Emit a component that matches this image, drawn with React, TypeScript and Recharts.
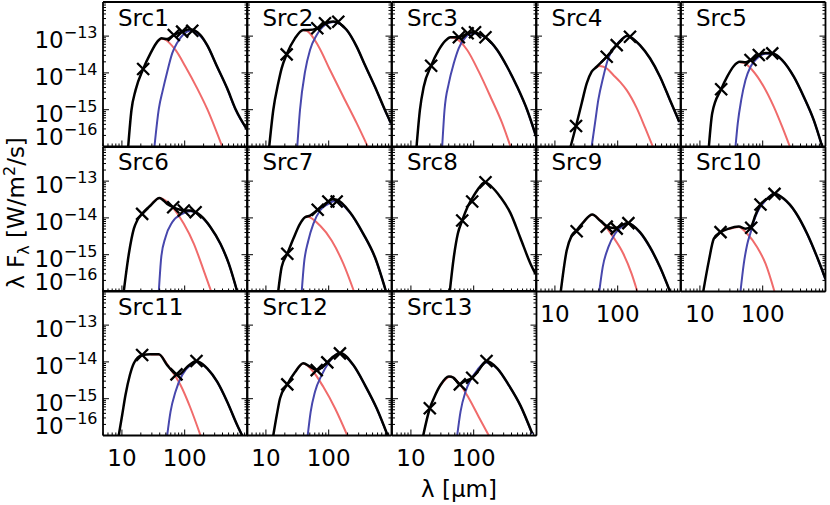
import React from "react";
import { ComposedChart, Line, Scatter, XAxis, YAxis } from "recharts";

type Pt = [number, number];

// [wavelength in um, lambda*F_lambda in W/m^2/s]
const src1Total: Pt[] = [[12.6, 1e-16], [14.2, 9.8e-16], [16.5, 3.4e-15], [21.8, 1.28e-14], [28.5, 3.4e-14], [36.5, 7.0e-14], [42.7, 8.7e-14], [52.6, 8.3e-14], [67, 1.07e-13], [91, 1.32e-13], [120, 1.53e-13], [178, 1.07e-13], [228, 5.7e-14], [329, 1.47e-14], [475, 3.8e-15], [644, 1.05e-15], [1000, 2.8e-16]];
const src1Cold: Pt[] = [[36.5, 7.0e-14], [42.7, 8.5e-14], [46.5, 8.3e-14], [71.3, 4.2e-14], [103, 1.47e-14], [158, 3.8e-15], [228, 1.05e-15], [395, 1e-16]];
const src1Warm: Pt[] = [[33, 1e-16], [38.7, 1.05e-15], [44.8, 3.4e-15], [52.6, 1.06e-14], [63.2, 3.4e-14], [76, 6.6e-14], [96.8, 1.14e-13], [120, 1.4e-13], [178, 1.0e-13], [228, 5.6e-14], [329, 1.45e-14], [475, 3.7e-15], [644, 1.0e-15], [1000, 2.7e-16]];
const src1Phot: Pt[] = [[21.8, 1.28e-14], [67, 1.07e-13], [91, 1.32e-13], [132, 1.4e-13]];

const src2Total: Pt[] = [[11.3, 1e-16], [13.1, 9.8e-16], [15.7, 5.2e-15], [17.8, 1.33e-14], [21.4, 3.2e-14], [29, 8.7e-14], [39.4, 1.47e-13], [47.3, 1.47e-13], [65.8, 1.63e-13], [87.3, 2.2e-13], [118, 2.5e-13], [194, 1.47e-13], [279, 5.2e-14], [378, 1.64e-14], [546, 4.2e-15], [787, 9.8e-16], [982, 4.3e-16]];
const src2Cold: Pt[] = [[39.4, 1.45e-13], [44.6, 1.4e-13], [68.3, 5.4e-14], [105, 1.2e-14], [171, 2.25e-15], [279, 4.3e-16], [418, 1e-16]];
const src2Warm: Pt[] = [[31.6, 1e-16], [34.9, 9.8e-16], [42, 1.08e-14], [50.4, 4.2e-14], [64.4, 1.07e-13], [87.3, 2.0e-13], [118, 2.4e-13], [194, 1.45e-13], [279, 5.1e-14], [378, 1.6e-14], [546, 4.1e-15], [787, 9.6e-16], [982, 4.2e-16]];
const src2Phot: Pt[] = [[21.4, 3.2e-14], [65.8, 1.63e-13], [87.3, 2.23e-13], [142, 2.46e-13]];

const src3Total: Pt[] = [[12.3, 1e-16], [13.9, 9.8e-16], [16, 4.2e-15], [21, 1.57e-14], [27.8, 4.2e-14], [35.5, 7.5e-14], [42.7, 9.3e-14], [52.6, 9.3e-14], [61.6, 9.6e-14], [83.6, 1.22e-13], [94.6, 1.27e-13], [128, 1.12e-13], [154, 9.3e-14], [237, 4.2e-14], [341, 1.47e-14], [493, 4.2e-15], [711, 9.8e-16], [988, 1.85e-16]];
const src3Cold: Pt[] = [[42.7, 9.2e-14], [48.2, 9.0e-14], [78.7, 4.2e-14], [120.5, 1.08e-14], [185, 2.25e-15], [284, 4.3e-16], [385, 1e-16]];
const src3Warm: Pt[] = [[31.5, 1e-16], [34.3, 9.8e-16], [40.1, 5.2e-15], [48.2, 1.82e-14], [57.9, 4.7e-14], [74, 9.3e-14], [94.6, 1.2e-13], [128, 1.08e-13], [154, 9.1e-14], [237, 4.1e-14], [341, 1.45e-14], [493, 4.1e-15], [711, 9.6e-16], [988, 1.8e-16]];
const src3Phot: Pt[] = [[21, 1.57e-14], [58, 9.3e-14], [80, 1.2e-13], [105, 1.27e-13], [154, 9.3e-14]];

const src4Total: Pt[] = [[17.8, 1e-16], [21.7, 3.6e-16], [26.7, 1.5e-15], [32.1, 5.2e-15], [38.5, 1.08e-14], [46.3, 1.47e-14], [66.8, 2.75e-14], [96.4, 5.7e-14], [142, 1.03e-13], [157, 9.6e-14], [226, 5.7e-14], [327, 2.5e-14], [472, 7.9e-15], [680, 1.84e-15], [957, 4.7e-16]];
const src4Cold: Pt[] = [[46.3, 1.45e-14], [52.2, 1.54e-14], [68, 1.3e-14], [85, 8.8e-15], [110, 5.6e-15], [139, 3.4e-15], [201, 1.1e-15], [272, 3.3e-16], [361, 1e-16]];
const src4Warm: Pt[] = [[38.5, 1e-16], [43.5, 4.3e-16], [49.1, 1.84e-15], [59, 7.9e-15], [70.8, 2.5e-14], [90.6, 5.2e-14], [116, 8.2e-14], [142, 1.0e-13], [157, 9.5e-14], [226, 5.6e-14], [327, 2.45e-14], [472, 7.8e-15], [680, 1.8e-15], [957, 4.6e-16]];
const src4Phot: Pt[] = [[21.7, 3.6e-16], [66.8, 2.75e-14], [96.4, 5.7e-14], [157, 9.6e-14]];

const src5Total: Pt[] = [[13.9, 1e-16], [15.7, 8e-16], [21.8, 3.6e-15], [27.2, 7.9e-15], [34.7, 1.54e-14], [43.2, 2.0e-14], [53.2, 1.95e-14], [64, 2.24e-14], [86.7, 3.06e-14], [111, 3.5e-14], [142, 3.4e-14], [204, 2.24e-14], [313, 7.9e-15], [451, 2.25e-15], [651, 5.2e-16], [885, 1e-16]];
const src5Cold: Pt[] = [[43.2, 1.95e-14], [50, 1.89e-14], [68, 1.2e-14], [104, 4.2e-15], [150, 1.21e-15], [204, 3.45e-16], [270, 1e-16]];
const src5Warm: Pt[] = [[36.9, 1e-16], [40.1, 4.3e-16], [45.5, 1.84e-15], [53.2, 6.4e-15], [64, 1.47e-14], [81.7, 2.5e-14], [111, 3.3e-14], [142, 3.3e-14], [204, 2.2e-14], [313, 7.8e-15], [451, 2.2e-15], [651, 5.1e-16], [885, 1e-16]];
const src5Phot: Pt[] = [[21.8, 3.6e-15], [64, 2.24e-14], [86.7, 3.06e-14], [142, 3.4e-14]];

const src6Total: Pt[] = [[10.7, 1e-16], [12.9, 1.06e-15], [15.5, 5.1e-15], [17.5, 8.5e-15], [21, 1.29e-14], [28.5, 2.17e-14], [39.7, 3.5e-14], [52.6, 2.4e-14], [65.6, 1.95e-14], [96.8, 1.59e-14], [124, 1.6e-14], [149, 1.43e-14], [178.5, 1.16e-14], [258, 5.6e-15], [371, 1.98e-15], [504, 5.7e-16], [685, 1e-16]];
const src6Cold: Pt[] = [[28.5, 2.17e-14], [39.7, 3.45e-14], [67, 1.77e-14], [96.8, 6.9e-15], [140, 1.98e-15], [201, 3.7e-16], [264, 1e-16]];
const src6Warm: Pt[] = [[38.7, 1e-16], [42.3, 8.5e-16], [49.5, 3.0e-15], [63.2, 7.6e-15], [91.2, 1.29e-14], [124, 1.52e-14], [149, 1.4e-14], [178.5, 1.13e-14], [258, 5.5e-15], [371, 1.95e-15], [504, 5.6e-16], [685, 1e-16]];
const src6Phot: Pt[] = [[21, 1.29e-14], [65.6, 1.95e-14], [96.8, 1.59e-14], [149, 1.43e-14]];

const src7Total: Pt[] = [[15.7, 1e-16], [17.8, 4.6e-16], [21.9, 1.06e-15], [27.3, 2.7e-15], [34.9, 6.9e-15], [42, 1.04e-14], [50.4, 1.16e-14], [66.8, 1.66e-14], [98.6, 2.79e-14], [116, 3.2e-14], [134, 3.1e-14], [218, 1.43e-14], [356, 3.7e-15], [546, 8.5e-16], [817, 1e-16]];
const src7Cold: Pt[] = [[42, 1.04e-14], [44.6, 1.09e-14], [72.7, 6.2e-15], [112, 2.4e-15], [171, 5.7e-16], [253, 1e-16]];
const src7Warm: Pt[] = [[37.2, 1e-16], [40.4, 5.7e-16], [47.3, 2.4e-15], [56.9, 6.9e-15], [72.7, 1.59e-14], [98.6, 2.4e-14], [124, 2.9e-14], [218, 1.4e-14], [356, 3.6e-15], [546, 8.3e-16], [817, 1e-16]];
const src7Phot: Pt[] = [[21.9, 1.06e-15], [66.8, 1.66e-14], [98.6, 2.79e-14], [134, 2.79e-14]];

const src8Total: Pt[] = [[41.6, 1e-16], [48.2, 8.5e-16], [55.8, 3.7e-15], [65.6, 8.5e-15], [80, 2.0e-14], [100, 4.0e-14], [125, 7.0e-14], [150, 9.3e-14], [190, 7.2e-14], [267, 3.66e-14], [385, 1.35e-14], [556, 2.8e-15], [802, 5.7e-16], [964, 3e-16]];
const src8Phot: Pt[] = [[65.6, 8.5e-15], [94.6, 2.79e-14], [154, 9.3e-14]];

const src9Total: Pt[] = [[12.4, 1e-16], [15.4, 1.3e-15], [18.5, 3.3e-15], [22.2, 4.6e-15], [28.3, 7.6e-15], [39.4, 1.24e-14], [52.2, 8.5e-15], [66.8, 6.0e-15], [85, 5.3e-15], [100, 5.5e-15], [142, 7.3e-15], [226, 4.1e-15], [327, 1.6e-15], [472, 4.6e-16], [680, 1e-16]];
const src9Cold: Pt[] = [[28.3, 7.6e-15], [39.4, 1.22e-14], [59, 6.9e-15], [85, 3.0e-15], [123, 1.06e-15], [167, 3.0e-16], [205, 1e-16]];
const src9Warm: Pt[] = [[50.9, 1e-16], [57.7, 4.6e-16], [71, 1.6e-15], [90.6, 3.7e-15], [116, 5.8e-15], [148, 7.0e-15], [226, 4.0e-15], [327, 1.55e-15], [472, 4.5e-16], [680, 1e-16]];
const src9Phot: Pt[] = [[22.2, 4.35e-15], [66.8, 5.8e-15], [96.4, 5.1e-15], [148, 7.2e-15]];

const src10Total: Pt[] = [[11.3, 1e-16], [13.9, 6.9e-16], [16.6, 2.7e-15], [21.3, 4.1e-15], [28.8, 5.1e-15], [41.6, 5.8e-15], [53.2, 5.1e-15], [65.6, 6.0e-15], [76.8, 1.2e-14], [92.2, 2.31e-14], [118, 3.3e-14], [154, 4.5e-14], [217, 3.3e-14], [333, 1.43e-14], [511, 3.7e-15], [738, 8.5e-16], [1000, 2.2e-16]];
const src10Cold: Pt[] = [[28.8, 5.0e-15], [41.6, 5.7e-15], [56.6, 3.7e-15], [81.7, 1.6e-15], [111, 5.7e-16], [154, 1e-16]];
const src10Warm: Pt[] = [[44.3, 1e-16], [50, 5.7e-16], [56.6, 1.9e-15], [65, 4.3e-15], [72, 8.0e-15], [81.7, 1.4e-14], [104, 2.6e-14], [142, 4.3e-14], [154, 4.4e-14], [217, 3.25e-14], [333, 1.4e-14], [511, 3.6e-15], [738, 8.3e-16], [1000, 2.1e-16]];
const src10Phot: Pt[] = [[21.3, 4.1e-15], [65.6, 5.4e-15], [92.2, 2.31e-14], [154, 4.5e-14]];

const src11Total: Pt[] = [[8.9, 1e-16], [10.1, 3.6e-16], [11.4, 1.26e-15], [13.4, 4.4e-15], [15.5, 9.2e-15], [21, 1.54e-14], [28.5, 1.61e-14], [38.7, 1.61e-14], [52.6, 8.2e-15], [74, 4.6e-15], [80, 4.5e-15], [110, 7.4e-15], [154, 1.06e-14], [165, 1.02e-14], [228, 6.7e-15], [329, 2.9e-15], [475, 8.3e-16], [685, 1.93e-16], [823, 1e-16]];
const src11Cold: Pt[] = [[28.5, 1.6e-14], [38.7, 1.6e-14], [55.8, 7.4e-15], [85.7, 2.35e-15], [124, 5.5e-16], [178.5, 1e-16]];
const src11Warm: Pt[] = [[52.6, 1e-16], [59.4, 4.4e-16], [71.3, 1.55e-15], [91.2, 4.4e-15], [124, 8.2e-15], [158, 1.0e-14], [228, 6.6e-15], [329, 2.85e-15], [475, 8.2e-16], [685, 1.9e-16], [823, 1e-16]];
const src11Phot: Pt[] = [[21, 1.54e-14], [74, 4.6e-15], [154, 1.06e-14]];

const src12Total: Pt[] = [[13.1, 1e-16], [14.9, 3.6e-16], [16.8, 1.03e-15], [21.9, 2.46e-15], [29, 5.2e-15], [39.4, 9.2e-15], [50.4, 7.4e-15], [64.4, 6.0e-15], [95, 9.7e-15], [151, 1.75e-14], [247, 8.2e-15], [378, 2.35e-15], [581, 5.5e-16], [869, 1e-16]];
const src12Cold: Pt[] = [[29, 5.2e-15], [39.4, 9.1e-15], [56.9, 5.4e-15], [82, 2.1e-15], [126, 5.5e-16], [198, 1e-16]];
const src12Warm: Pt[] = [[46.3, 1e-16], [51.6, 4.4e-16], [60.5, 1.55e-15], [77.3, 4.4e-15], [98.6, 9.2e-15], [134, 1.6e-14], [151, 1.7e-14], [247, 8.1e-15], [378, 2.3e-15], [581, 5.4e-16], [869, 1e-16]];
const src12Phot: Pt[] = [[21.9, 2.46e-15], [64.4, 6.0e-15], [95, 9.7e-15], [151, 1.71e-14]];

const src13Total: Pt[] = [[15.7, 1e-16], [20, 5.5e-16], [23.2, 1.03e-15], [29.6, 2.35e-15], [40.1, 4.0e-15], [48.2, 3.7e-15], [60.1, 2.46e-15], [69.5, 2.9e-15], [94.6, 3.7e-15], [120.5, 6.0e-15], [160, 1.06e-14], [237, 6.7e-15], [362, 2.35e-15], [556, 6.5e-16], [853, 1.15e-16]];
const src13Cold: Pt[] = [[29.6, 2.35e-15], [42.7, 4.0e-15], [61.6, 2.35e-15], [83.6, 1.03e-15], [120.5, 3.2e-16], [174, 1e-16]];
const src13Warm: Pt[] = [[54.6, 1e-16], [61.6, 4.4e-16], [74, 1.55e-15], [88.9, 3.2e-15], [114, 6.0e-15], [154, 9.7e-15], [237, 6.6e-15], [362, 2.3e-15], [556, 6.4e-16], [853, 1.1e-16]];
const src13Phot: Pt[] = [[20, 5.5e-16], [60.1, 2.46e-15], [94.6, 3.7e-15], [160, 1.06e-14]];

const panels = [
  { name: "Src1", total: src1Total, cold: src1Cold, warm: src1Warm, phot: src1Phot },
  { name: "Src2", total: src2Total, cold: src2Cold, warm: src2Warm, phot: src2Phot },
  { name: "Src3", total: src3Total, cold: src3Cold, warm: src3Warm, phot: src3Phot },
  { name: "Src4", total: src4Total, cold: src4Cold, warm: src4Warm, phot: src4Phot },
  { name: "Src5", total: src5Total, cold: src5Cold, warm: src5Warm, phot: src5Phot },
  { name: "Src6", total: src6Total, cold: src6Cold, warm: src6Warm, phot: src6Phot },
  { name: "Src7", total: src7Total, cold: src7Cold, warm: src7Warm, phot: src7Phot },
  { name: "Src8", total: src8Total, cold: [] as Pt[], warm: [] as Pt[], phot: src8Phot },
  { name: "Src9", total: src9Total, cold: src9Cold, warm: src9Warm, phot: src9Phot },
  { name: "Src10", total: src10Total, cold: src10Cold, warm: src10Warm, phot: src10Phot },
  { name: "Src11", total: src11Total, cold: src11Cold, warm: src11Warm, phot: src11Phot },
  { name: "Src12", total: src12Total, cold: src12Cold, warm: src12Warm, phot: src12Phot },
  { name: "Src13", total: src13Total, cold: src13Cold, warm: src13Warm, phot: src13Phot },
];

// axes
const xLabelTicks = [10, 100];
const xDecades = [1, 10, 100];
const yExponents = [-16, -15, -14, -13];
const mantissas = [1, 2, 3, 4, 5, 6, 7, 8, 9];
const X_DOMAIN: [number, number] = [5, 1000];
const Y_DOMAIN: [number, number] = [1e-16, 8.45e-13];

const xTicks = [...xDecades.flatMap((d) => mantissas.map((m) => m * d)), 1000].filter((v) => v >= X_DOMAIN[0] && v <= X_DOMAIN[1]);
const yTicks = yExponents.flatMap((e) => mantissas.map((m) => m * Math.pow(10, e))).filter((v) => v <= Y_DOMAIN[1]);

// layout
const GRID_LEFT = 102.5;
const GRID_TOP = 2;
const PANEL_W = 144.5;
const PANEL_H = 144.5;
const COLS = 5;
const AX = 0.01; // axis thickness, must be > 0 or recharts skips the axis
const FONT = "'DejaVu Sans', sans-serif";
const RED = "#f06b6b";
const BLUE = "#4747ad";

const rows = (a: Pt[]) => a.map(([x, y]) => ({ x, y }));
const isDecade = (v: number) => Math.abs(Math.log10(v) - Math.round(Math.log10(v))) < 1e-6;

function makeTick(side: "bottom" | "top" | "left" | "right", labels: boolean) {
  return (props: any) => {
    const { x, y, payload } = props;
    const v = payload.value as number;
    const major = isDecade(v);
    const len = major ? 6 : 3;
    let line;
    if (side === "bottom") line = <line x1={x} x2={x} y1={y} y2={y - len} />;
    else if (side === "top") line = <line x1={x} x2={x} y1={y} y2={y + len} />;
    else if (side === "left") line = <line x1={x} x2={x + len} y1={y} y2={y} />;
    else line = <line x1={x} x2={x - len} y1={y} y2={y} />;

    let label = null;
    if (labels && major && side === "bottom" && xLabelTicks.some((t) => Math.abs(t - v) < 1e-6)) {
      label = (
        <text x={x} y={y + 31} textAnchor="middle" fontSize={23} fontFamily={FONT} fill="#000">
          {Math.round(v)}
        </text>
      );
    }
    if (labels && major && side === "left") {
      const e = Math.round(Math.log10(v));
      label = (
        <text x={x - 5.5} y={y + (e === -16 ? -1 : 12)} textAnchor="end" fontSize={23} fontFamily={FONT} fill="#000">
          10
          <tspan dy={-10} fontSize={16}>
            {"\u2212" + String(-e)}
          </tspan>
        </text>
      );
    }
    return (
      <g>
        <g stroke="#000" strokeWidth={1}>{line}</g>
        {label}
      </g>
    );
  };
}

const cross = (props: any) => {
  const { cx, cy } = props;
  const s = 6;
  return <path d={`M${cx - s},${cy - s}L${cx + s},${cy + s}M${cx - s},${cy + s}L${cx + s},${cy - s}`} stroke="#000" strokeWidth={2.3} fill="none" />;
};

const frame = { stroke: "#000", strokeWidth: 1.8 };

function Panel({ p, index }: { p: (typeof panels)[number]; index: number }) {
  const col = index % COLS;
  const row = Math.floor(index / COLS);
  const xLab = row === 2 || (row === 1 && col >= 3);
  const yLab = col === 0;
  const axisCommon = { type: "number" as const, scale: "log" as const, allowDataOverflow: true, interval: 0 as const, tickSize: 0, tickMargin: 0, tickLine: false, axisLine: frame };
  return (
    <div style={{ position: "absolute", left: GRID_LEFT + col * PANEL_W, top: GRID_TOP + row * PANEL_H, width: PANEL_W, height: PANEL_H }}>
      <ComposedChart width={PANEL_W} height={PANEL_H} margin={{ top: 0, right: 0, bottom: 0, left: 0 }}>
        <XAxis {...axisCommon} dataKey="x" domain={X_DOMAIN} ticks={xTicks} height={AX} tick={makeTick("bottom", xLab)} />
        <XAxis {...axisCommon} xAxisId="top" orientation="top" domain={X_DOMAIN} ticks={xTicks} height={AX} tick={makeTick("top", false)} />
        <YAxis {...axisCommon} dataKey="y" domain={Y_DOMAIN} ticks={yTicks} width={AX} tick={makeTick("left", yLab)} />
        <YAxis {...axisCommon} yAxisId="right" orientation="right" domain={Y_DOMAIN} ticks={yTicks} width={AX} tick={makeTick("right", false)} />
        {p.cold.length > 0 && (
          <Line data={rows(p.cold)} dataKey="y" type="monotone" stroke={RED} strokeWidth={2} dot={false} activeDot={false} isAnimationActive={false} />
        )}
        {p.warm.length > 0 && (
          <Line data={rows(p.warm)} dataKey="y" type="monotone" stroke={BLUE} strokeWidth={2} dot={false} activeDot={false} isAnimationActive={false} />
        )}
        <Line data={rows(p.total)} dataKey="y" type="monotone" stroke="#000" strokeWidth={2.5} dot={false} activeDot={false} isAnimationActive={false} />
        <Scatter data={rows(p.phot)} dataKey="y" shape={cross} isAnimationActive={false} />
      </ComposedChart>
    </div>
  );
}

export default function App() {
  return (
    <div style={{ position: "absolute", left: 0, top: 0, width: 830, height: 505, background: "#fff", fontFamily: FONT }}>
      <style>{".recharts-surface{overflow:visible}"}</style>
      {panels.map((p, i) => (
        <Panel key={p.name} p={p} index={i} />
      ))}
      <svg width={830} height={505} style={{ position: "absolute", left: 0, top: 0, pointerEvents: "none" }}>
        {panels.map((p, i) => (
          <text key={p.name} x={GRID_LEFT + (i % COLS) * PANEL_W + 15.5} y={GRID_TOP + Math.floor(i / COLS) * PANEL_H + 23.5} fontSize={23} fontFamily={FONT} fill="#000">
            {p.name}
          </text>
        ))}
        <text transform="translate(24,213) rotate(-90)" textAnchor="middle" fontSize={23} fontFamily={FONT} fill="#000">
          λ F
          <tspan dy={5} fontSize={16}>λ</tspan>
          <tspan dy={-5}> [W/m</tspan>
          <tspan dy={-9} fontSize={16}>2</tspan>
          <tspan dy={9}>/s]</tspan>
        </text>
        <text x={459} y={497} textAnchor="middle" fontSize={23} fontFamily={FONT} fill="#000">
          λ [μm]
        </text>
      </svg>
    </div>
  );
}
